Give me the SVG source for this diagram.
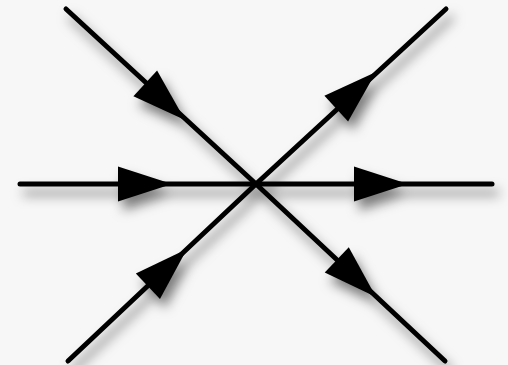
<svg xmlns="http://www.w3.org/2000/svg" width="508" height="365" viewBox="0 0 508 365">
<style>
.ln{stroke:#000;stroke-width:5;fill:none;stroke-linecap:round}
</style>
<defs>
<filter id="sh" x="-20%" y="-20%" width="140%" height="140%">
<feDropShadow dx="5" dy="9" stdDeviation="6" flood-color="#000" flood-opacity="0.5"/>
</filter>
<path id="ah" d="M0,0 L-54,-17.5 L-54,17.5 Z" fill="#000"/>
</defs>
<rect width="508" height="365" fill="#f7f7f7"/>
<g id="connectors" filter="url(#sh)">
<path class="ln" d="M66,9 L256,184 L445,361"/>
<path class="ln" d="M68,361 L256,184 L446,9"/>
<path class="ln" d="M20,184 L492,184"/>
<use href="#ah" transform="translate(185,120) rotate(42.6)"/>
<use href="#ah" transform="translate(376,297) rotate(43.4)"/>
<use href="#ah" transform="translate(187,249) rotate(-43.6)"/>
<use href="#ah" transform="translate(376,72) rotate(-42.6)"/>
<use href="#ah" transform="translate(172,184)"/>
<use href="#ah" transform="translate(408,184)"/>
</g>
</svg>
